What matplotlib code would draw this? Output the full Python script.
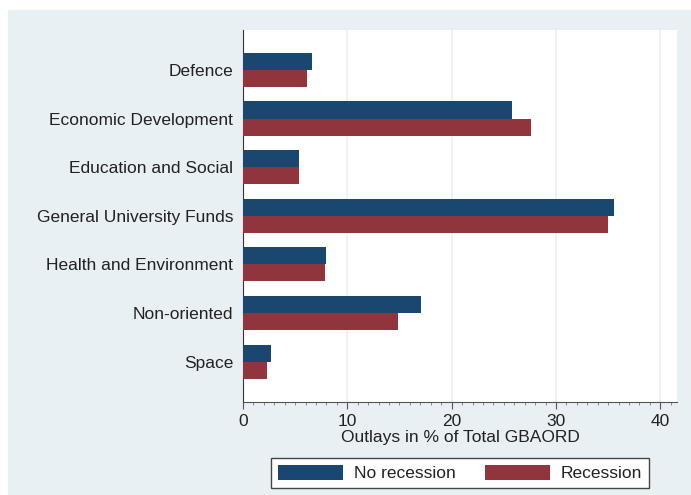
import numpy as np
import matplotlib
matplotlib.use("Agg")
from matplotlib import pyplot as plt
from matplotlib.patches import Rectangle
from matplotlib.ticker import MultipleLocator

# data
categories = ["Defence", "Economic Development", "Education and Social",
              "General University Funds", "Health and Environment",
              "Non-oriented", "Space"]
no_recession = [6.6, 25.8, 5.4, 35.6, 8.0, 17.1, 2.7]
recession = [6.1, 27.6, 5.4, 35.0, 7.9, 14.9, 2.3]
series_names = ["No recession", "Recession"]

navy = "#1a476f"
maroon = "#90353b"
panel = "#e9f0f3"
txt = "#222222"

plt.rcParams["font.family"] = ["Liberation Sans", "DejaVu Sans"]
plt.rcParams["font.size"] = 12.5

W, H = 691, 495
fig = plt.figure(figsize=(W / 100, H / 100), dpi=100, facecolor="white")
# light stata-like background panel, kept behind the axes
fig.patches.append(Rectangle((8 / W, 0), 1 - 8 / W, 1 - 10 / H,
                             transform=fig.transFigure, color=panel, zorder=-10))

ax = fig.add_axes([243 / W, 1 - 402 / H, (677 - 243) / W, (402 - 30) / H])
ax.set_facecolor("white")

y = np.arange(len(categories))
h = 0.35
ax.barh(y - h / 2, no_recession, height=h, color=navy, label=series_names[0], zorder=3)
ax.barh(y + h / 2, recession, height=h, color=maroon, label=series_names[1], zorder=3)

ax.set_ylim(6.83, -0.82)
ax.set_xlim(0, 41.6)
ax.set_yticks(y)
ax.set_yticklabels(categories, color=txt)
ax.tick_params(axis="y", length=0, pad=7)

ax.set_xticks([0, 10, 20, 30, 40])
ax.xaxis.set_minor_locator(MultipleLocator(1))
ax.tick_params(axis="x", which="major", length=5, color="#555555", labelcolor=txt, pad=4)
ax.tick_params(axis="x", which="minor", length=2, color="#777777")
ax.grid(axis="x", color="#eceff1", linewidth=1.2, zorder=0)
ax.set_axisbelow(True)

for s in ["top", "right"]:
    ax.spines[s].set_visible(False)
ax.spines["left"].set_color("#333333")
ax.spines["bottom"].set_color("#555555")

ax.set_xlabel("Outlays in % of Total GBAORD", color=txt, labelpad=0.5)

leg = fig.legend(loc="center", bbox_to_anchor=(460 / W, 1 - 473 / H), ncol=2,
                 frameon=True, fancybox=False, framealpha=1.0,
                 handlelength=3.75, handleheight=0.95,
                 handletextpad=0.63, columnspacing=1.65, borderpad=0.4)
leg.get_frame().set_edgecolor("#444444")
leg.get_frame().set_facecolor("white")
leg.get_frame().set_linewidth(1.0)
for t in leg.get_texts():
    t.set_color(txt)

fig.savefig("out.png", dpi=100, facecolor=fig.get_facecolor())
